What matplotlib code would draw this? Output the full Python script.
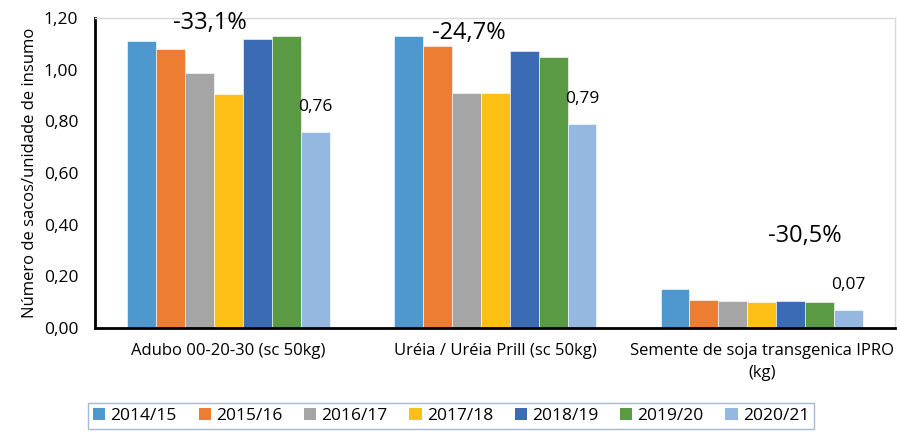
import numpy as np
import matplotlib
matplotlib.use("Agg")
import matplotlib.pyplot as plt

plt.rcParams['font.family'] = ['Open Sans', 'DejaVu Sans']

categorias = ['Adubo 00-20-30 (sc 50kg)', 'Uréia / Uréia Prill (sc 50kg)',
              'Semente de soja transgenica IPRO\n(kg)']
safras = ['2014/15', '2015/16', '2016/17', '2017/18', '2018/19', '2019/20', '2020/21']

# valores por safra (adubo, ureia, semente)
v_2014 = [1.11, 1.13, 0.15]
v_2015 = [1.08, 1.09, 0.107]
v_2016 = [0.985, 0.91, 0.105]
v_2017 = [0.905, 0.91, 0.102]
v_2018 = [1.12, 1.07, 0.104]
v_2019 = [1.13, 1.05, 0.10]
v_2020 = [0.76, 0.79, 0.07]
valores = [v_2014, v_2015, v_2016, v_2017, v_2018, v_2019, v_2020]

variacao = ['-33,1%', '-24,7%', '-30,5%']
var_y = [1.18, 1.14, 0.355]
var_dx = [-0.07, -0.10, 0.16]

cores = ['#4E98D0', '#ED7D31', '#A5A5A5', '#FEC016', '#3B6BB5', '#5A9A44', '#95B8E1']

fig = plt.figure(figsize=(8.97, 4.36), dpi=100)
ax = fig.add_axes([0.106, 0.248, 0.892, 0.711])

x = np.arange(len(categorias))
w = 0.76 / 7
for i, (s, v) in enumerate(zip(safras, valores)):
    pos = x - 0.38 + w * (i + 0.5)
    ax.bar(pos, v, w, color=cores[i], edgecolor='white', linewidth=0.4, label=s)
    if i == 6:
        for p, val in zip(pos, v):
            ax.text(p, val + 0.065, f'{val:.2f}'.replace('.', ','), ha='center',
                    va='bottom', fontsize=12.5)

for xi, t, yy, dx in zip(x, variacao, var_y, var_dx):
    ax.text(xi + dx, yy, t, ha='center', va='center', fontsize=17)

ax.set_xlim(-0.5, 2.5)
ax.set_ylim(0, 1.2)
ax.set_yticks(np.arange(0, 1.21, 0.2))
ax.set_yticklabels([f'{t:.2f}'.replace('.', ',') for t in np.arange(0, 1.21, 0.2)], fontsize=12.5)
ax.set_xticks(x)
ax.set_xticklabels(categorias, fontsize=12, linespacing=1.5)
ax.tick_params(axis='x', length=0, pad=11)
ax.tick_params(axis='y', length=0, pad=12)
ax.set_ylabel('Número de sacos/unidade de insumo', fontsize=12, labelpad=4)

for s in ['left', 'bottom']:
    ax.spines[s].set_linewidth(2)
    ax.spines[s].set_color('black')
for s in ['top', 'right']:
    ax.spines[s].set_linewidth(1)
    ax.spines[s].set_color('#D9D9D9')

leg = fig.legend(loc='center', bbox_to_anchor=(0.503, 0.046), ncol=7, fontsize=12.5,
                 frameon=True, fancybox=False, edgecolor='#8EA9C9',
                 handlelength=0.7, handleheight=0.7, handletextpad=0.3,
                 columnspacing=1.25, borderpad=0.3)
for h in leg.legend_handles:
    h.set_linewidth(0)

fig.savefig('out.png', dpi=100)
